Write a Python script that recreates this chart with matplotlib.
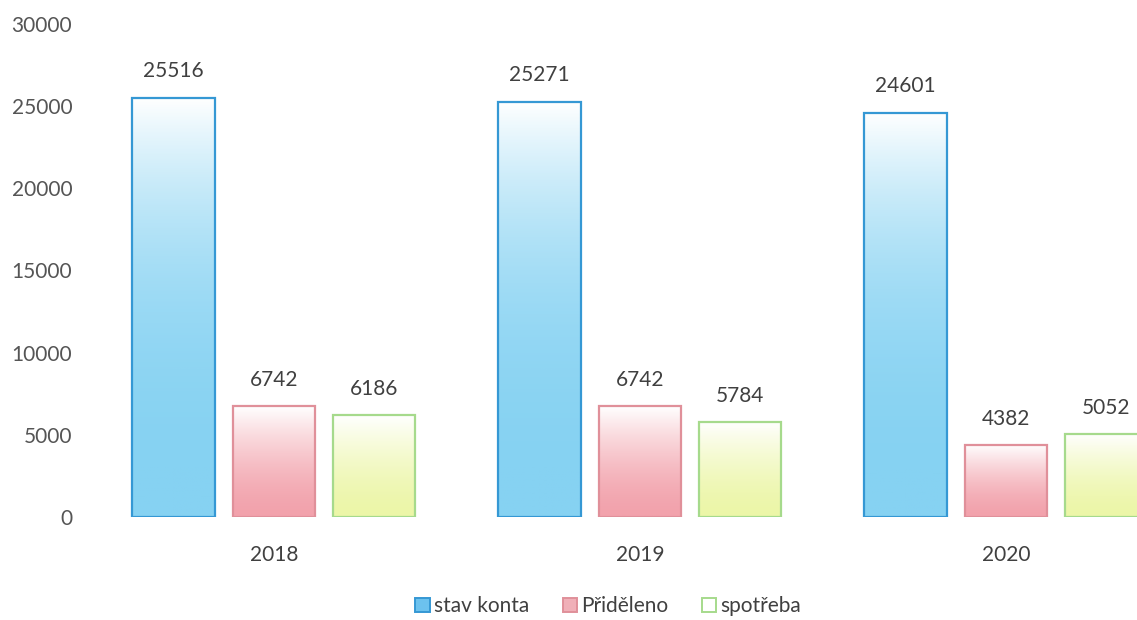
import numpy as np
import matplotlib
matplotlib.use('Agg')
import matplotlib.pyplot as plt
from matplotlib.colors import LinearSegmentedColormap
from matplotlib.patches import Patch

plt.rcParams['font.family'] = ['Lato', 'DejaVu Sans']

years = ['2018', '2019', '2020']
series_names = ['stav konta', 'Přiděleno', 'spotřeba']
stav_konta = [25516, 25271, 24601]
prideleno = [6742, 6742, 4382]
spotreba = [6186, 5784, 5052]
yticks = [0, 5000, 10000, 15000, 20000, 25000, 30000]

values = [stav_konta, prideleno, spotreba]
base_colors = ['#86d2f2', '#f2a2ac', '#ecf6a8']   # barva dole u paty sloupce
edge_colors = ['#3598d4', '#e0909a', '#a6da8c']
grad_power = [2.6, 1.6, 1.6]   # modra prechazi do barvy rychleji

fig = plt.figure(figsize=(11.37, 6.2), dpi=100)
ax = fig.add_axes([100 / 1137, 103 / 620, 1037 / 1137, 493 / 620])

x = np.arange(len(years))
width = 0.225
offsets = [-0.274, 0, 0.274]

for vals, off, base, edge, p in zip(values, offsets, base_colors, edge_colors, grad_power):
    cmap = LinearSegmentedColormap.from_list('g', [base, '#ffffff'])
    # gradient: bila nahore -> barva dole
    grad = (np.linspace(1, 0, 256) ** p).reshape(-1, 1)
    bars = ax.bar(x + off, vals, width, facecolor='none', edgecolor=edge,
                  linewidth=1.6, zorder=3)
    for b, v in zip(bars, vals):
        bx, bw = b.get_x(), b.get_width()
        ax.imshow(grad, cmap=cmap, vmin=0, vmax=1, aspect='auto',
                  extent=[bx, bx + bw, 0, v], zorder=2)
        ax.text(bx + bw / 2, v + 1000, f'{v}', ha='center', va='bottom',
                fontsize=15, color='#404040')

ax.set_xlim(-0.475, 2.358)
ax.set_ylim(0, 30000)
ax.set_yticks(yticks)
ax.set_yticklabels([str(t) for t in yticks], fontsize=15, color='#555555')
ax.tick_params(axis='y', length=0, pad=20)
ax.set_xticks(x)
ax.set_xticklabels(years, fontsize=15, color='#404040')
ax.tick_params(axis='x', length=0, pad=20)
for s in ax.spines.values():
    s.set_visible(False)

handles = [Patch(facecolor=c, edgecolor=e, linewidth=1.4)
           for c, e in zip(['#6cc2ee', '#f0b0b8', '#ffffff'], edge_colors)]
fig.legend(handles, series_names, loc='center', bbox_to_anchor=(0.535, 0.022),
           ncol=3, frameon=False, fontsize=15, handlelength=0.7,
           handleheight=0.7, handletextpad=0.2, columnspacing=1.6,
           labelcolor='#404040')

fig.savefig('out.png', dpi=100, facecolor='white')
